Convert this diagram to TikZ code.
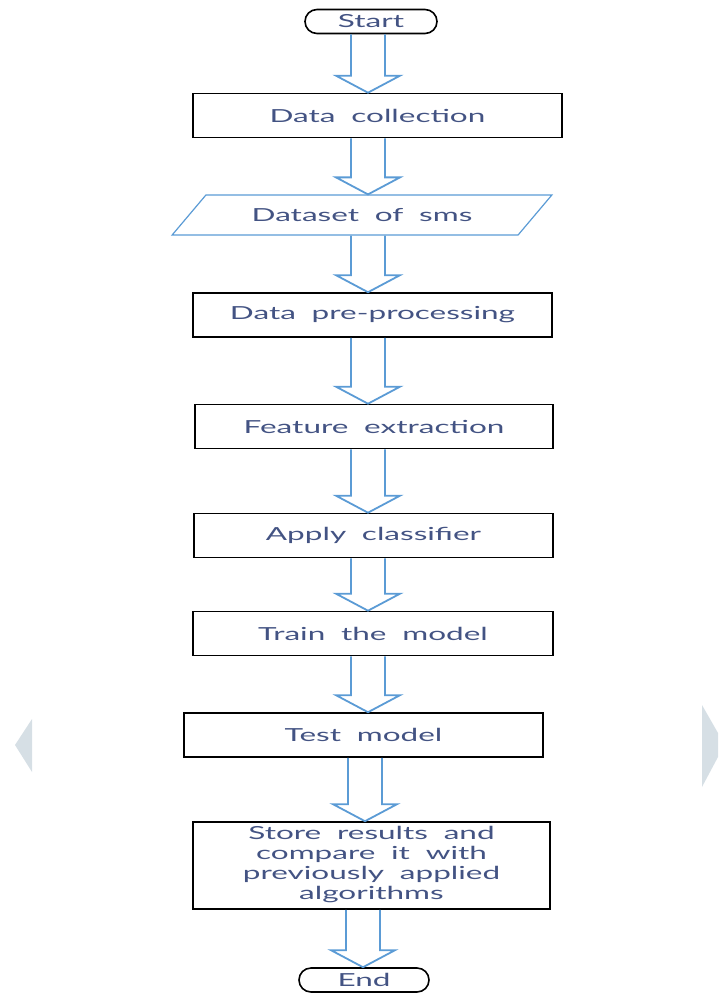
\documentclass[tikz,border=0pt]{standalone}
\usepackage{fontspec}
\setmainfont{Lato}
\usetikzlibrary{calc,shapes.geometric,shapes.misc}
\definecolor{flowblue}{HTML}{5B9BD5}
\definecolor{labelink}{HTML}{435383}
\definecolor{sidegray}{HTML}{D6DFE5}

% wide lettering of the labels
\newcommand{\wide}[1]{\scalebox{1.75}[1]{\spaceskip=0.5em #1}}
% hollow block arrow between two nodes, #1 = x of the arrow axis
\newcommand{\flowarrow}[3][368]{%
  \draw[flowarrow] let \p1=(#2.south), \p2=(#3.north) in
    (#1pt-17pt,\y1) -- (#1pt-17pt,\y2+17pt) -- (#1pt-32pt,\y2+17pt) -- (#1pt,\y2)
    -- (#1pt+32pt,\y2+17pt) -- (#1pt+17pt,\y2+17pt) -- (#1pt+17pt,\y1);}

\begin{document}
\begin{tikzpicture}[x=1pt,y=-1pt,
    every node/.style={text=labelink,font=\fontsize{18}{20}\selectfont,inner sep=0pt},
    stepbox/.style={draw=black,line width=1.6pt,rectangle,minimum height=44pt},
    terminal/.style={draw=black,line width=1.6pt,rounded rectangle,minimum width=132pt,minimum height=24pt},
    dataio/.style={draw=flowblue,line width=1.2pt,trapezium,trapezium left angle=29,trapezium right angle=151,
      trapezium stretches=true,minimum width=380pt,minimum height=40pt},
    flowarrow/.style={draw=flowblue,line width=1.8pt,line join=miter}]
  \useasboundingbox (0,0) rectangle (718,993);
  % page slider marks
  \fill[sidegray] (32,719) -- (32,772) -- (15,745) -- cycle;
  \fill[sidegray] (702,705) -- (718,733) -- (718,757) -- (702,787) -- cycle;

  \node[terminal] (start) at (371,21.5) {\wide{Start}};
  \node[stepbox,minimum width=369pt] (collect) at (377.5,115.5) {\wide{Data collection}};
  \node[dataio] (dataset) at (362,215) {\wide{Dataset of sms}};
  \node[stepbox,minimum width=359pt] (preproc) at (372.5,315) {\wide{Data pre-processing}};
  \node[stepbox,minimum width=358pt] (feature) at (374,426.5) {\wide{Feature extraction}};
  \node[stepbox,minimum width=359pt] (classify) at (373.5,535.5) {\wide{Apply classifier}};
  \node[stepbox,minimum width=360pt] (train) at (373,633.5) {\wide{Train the model}};
  \node[stepbox,minimum width=359pt] (test) at (363.5,735) {\wide{Test model}};
  \node[stepbox,minimum width=357pt,minimum height=87pt] (store) at (371.5,865.5)
    {\wide{\begin{tabular}{@{}c@{}}Store results and\\compare it with\\previously applied\\algorithms\end{tabular}}};
  \node[terminal,minimum width=130pt] (finish) at (364,980) {\wide{End}};

  \flowarrow{start}{collect}
  \flowarrow{collect}{dataset}
  \flowarrow{dataset}{preproc}
  \flowarrow{preproc}{feature}
  \flowarrow{feature}{classify}
  \flowarrow{classify}{train}
  \flowarrow{train}{test}
  \flowarrow[365]{test}{store}
  \flowarrow[363]{store}{finish}
\end{tikzpicture}
\end{document}
